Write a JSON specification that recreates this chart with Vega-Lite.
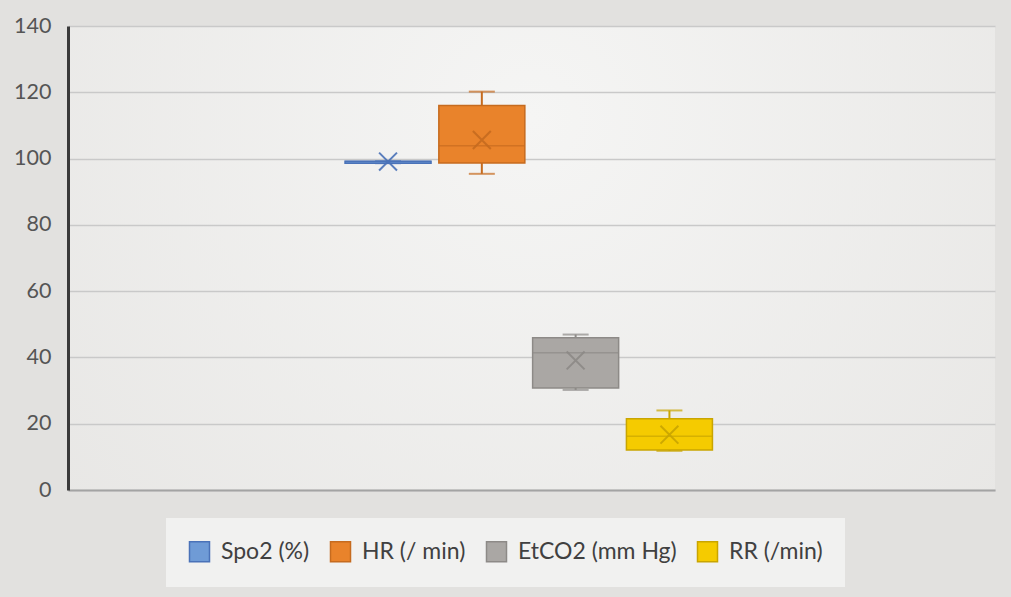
{
  "$schema": "https://vega.github.io/schema/vega-lite/v6.json",
  "width": 927,
  "height": 464,
  "autosize": {"type": "none"},
  "padding": {"left": 68, "top": 26, "right": 16, "bottom": 107},
  "background": "#e2e1df",
  "config": {
    "font": "Lato",
    "view": {
      "stroke": null,
      "fill": {
        "gradient": "radial",
        "x1": 0.5, "y1": 0.35, "r1": 0,
        "x2": 0.5, "y2": 0.35, "r2": 0.75,
        "stops": [
          {"offset": 0, "color": "#f5f5f4"},
          {"offset": 1, "color": "#e6e5e3"}
        ]
      }
    }
  },
  "data": {
    "values": [
      {"series": "Spo2 (%)", "min": 98.6, "q1": 98.6, "median": 99.1, "q3": 99.2, "max": 99.2, "mean": 99.1, "dark": "#4a72b8"},
      {"series": "HR (/ min)", "min": 95.4, "q1": 98.7, "median": 103.9, "q3": 116.0, "max": 120.2, "mean": 105.6, "dark": "#c66b1f"},
      {"series": "EtCO2 (mm Hg)", "min": 30.2, "q1": 30.8, "median": 41.4, "q3": 45.9, "max": 46.9, "mean": 39.1, "dark": "#8d8a87"},
      {"series": "RR (/min)", "min": 11.8, "q1": 12.1, "median": 16.2, "q3": 21.5, "max": 24.0, "mean": 16.7, "dark": "#c9a500"}
    ]
  },
  "encoding": {
    "x": {
      "field": "series",
      "type": "nominal",
      "scale": {
        "domain": ["_l1", "_l2", "Spo2 (%)", "HR (/ min)", "EtCO2 (mm Hg)", "RR (/min)", "_r1", "_r2"],
        "paddingOuter": 0.983, "paddingInner": 0.083, "align": 0.485
      },
      "axis": {"labels": false, "ticks": false, "title": null, "domainColor": "#a3a3a3", "domainWidth": 2, "grid": false}
    }
  },
  "layer": [
    {
      "mark": {"type": "rule", "strokeWidth": 2},
      "encoding": {
        "y": {
          "field": "min", "type": "quantitative",
          "scale": {"domain": [0, 140], "nice": false},
          "axis": {
            "values": [0, 20, 40, 60, 80, 100, 120, 140],
            "title": null, "ticks": false,
            "labelFontSize": 21.5, "labelColor": "#555555", "labelPadding": 17,
            "domainColor": "#3a3a3a", "domainWidth": 3,
            "gridColor": "#c9c9c9", "gridWidth": 1.5
          }
        },
        "y2": {"field": "max"},
        "color": {"field": "dark", "type": "nominal", "scale": null}
      }
    },
    {
      "mark": {"type": "tick", "size": 26, "thickness": 2},
      "encoding": {
        "y": {"field": "min", "type": "quantitative"},
        "color": {"field": "dark", "type": "nominal", "scale": null}
      }
    },
    {
      "mark": {"type": "tick", "size": 26, "thickness": 2},
      "encoding": {
        "y": {"field": "max", "type": "quantitative"},
        "color": {"field": "dark", "type": "nominal", "scale": null}
      }
    },
    {
      "mark": {"type": "bar", "strokeWidth": 1.5},
      "encoding": {
        "y": {"field": "q1", "type": "quantitative"},
        "y2": {"field": "q3"},
        "fill": {
          "field": "series", "type": "nominal",
          "scale": {
            "domain": ["Spo2 (%)", "HR (/ min)", "EtCO2 (mm Hg)", "RR (/min)"],
            "range": ["#6f9bd6", "#e9832b", "#aaa7a4", "#f5cb00"]
          },
          "legend": {
            "orient": "none", "legendX": 98, "legendY": 492,
            "direction": "horizontal", "title": null,
            "fillColor": "#f1f1f0", "padding": 22,
            "symbolType": "square", "symbolSize": 400, "symbolStrokeWidth": 1.5,
            "labelFontSize": 23, "labelColor": "#404040", "labelOffset": 10,
            "labelLimit": 400, "columnPadding": 17
          }
        },
        "stroke": {
          "field": "series", "type": "nominal",
          "scale": {
            "domain": ["Spo2 (%)", "HR (/ min)", "EtCO2 (mm Hg)", "RR (/min)"],
            "range": ["#4a72b8", "#c66b1f", "#8d8a87", "#c9a500"]
          }
        }
      }
    },
    {
      "mark": {"type": "tick", "size": 86, "thickness": 1.5},
      "encoding": {
        "y": {"field": "median", "type": "quantitative"},
        "color": {"field": "dark", "type": "nominal", "scale": null}
      }
    },
    {
      "mark": {"type": "point", "shape": "M-1,-1L1,1M1,-1L-1,1", "filled": false, "size": 320, "strokeWidth": 2, "opacity": 0.9},
      "encoding": {
        "y": {"field": "mean", "type": "quantitative"},
        "color": {"field": "dark", "type": "nominal", "scale": null}
      }
    }
  ]
}
